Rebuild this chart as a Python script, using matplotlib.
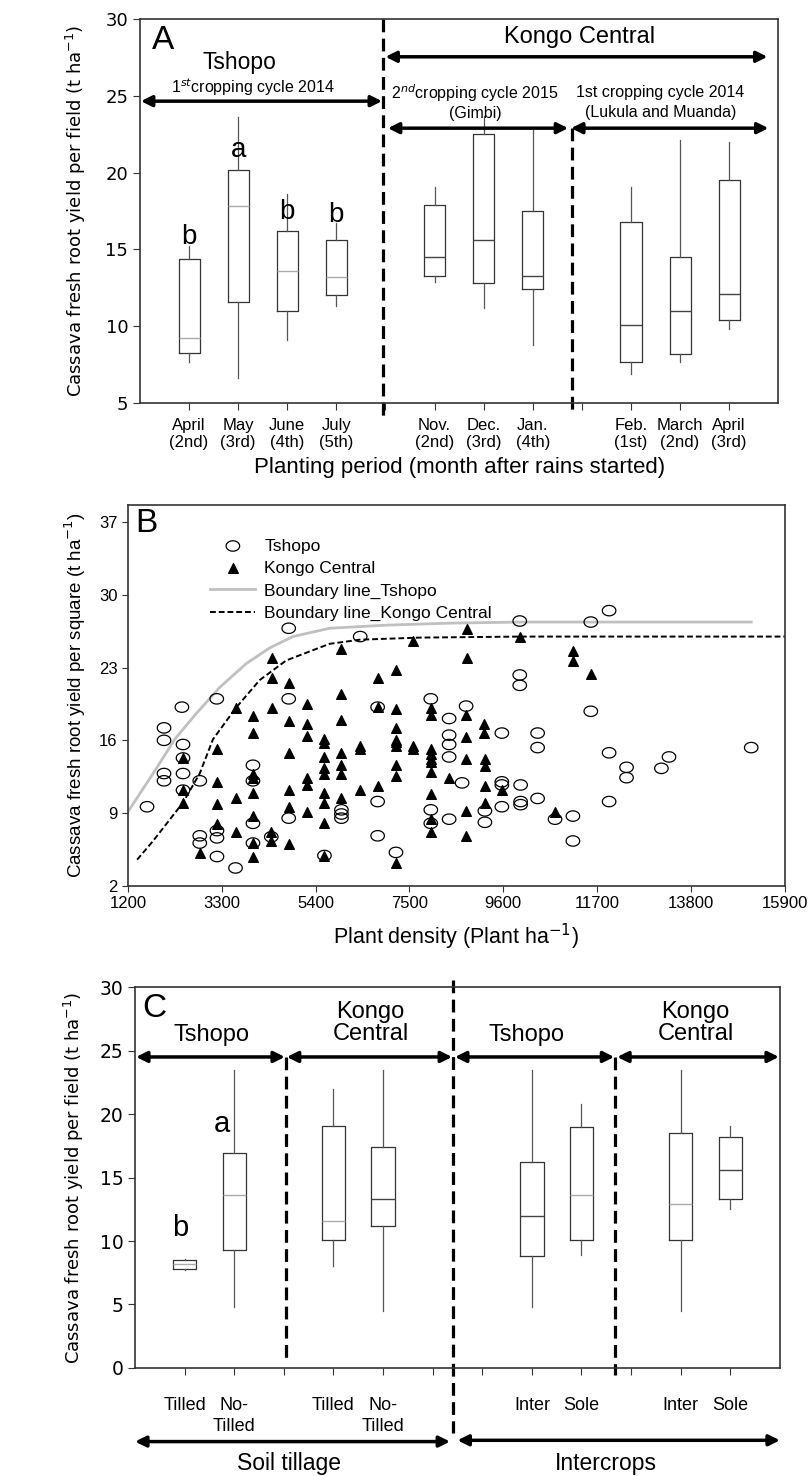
import matplotlib
matplotlib.use("Agg")
import matplotlib.pyplot as plt
from matplotlib.path import Path
from matplotlib import font_manager
import numpy as np

_avail = {f.name for f in font_manager.fontManager.ttflist}
if 'Liberation Sans Narrow' in _avail:
    NARROW = ['Liberation Sans Narrow', 'DejaVu Sans']
    NSCALE = 1.15
elif 'DejaVu Sans Condensed' in _avail:
    NARROW = ['DejaVu Sans Condensed', 'DejaVu Sans']
    NSCALE = 1.0
else:
    NARROW = ['Liberation Sans', 'DejaVu Sans']
    NSCALE = 1.0
ARIAL = ['Liberation Sans', 'DejaVu Sans']
VERD = ['DejaVu Sans']

# ---------------- Panel A data ----------------
a_labels = ["April\n(2nd)", "May\n(3rd)", "June\n(4th)", "July\n(5th)", "",
            "Nov.\n(2nd)", "Dec.\n(3rd)", "Jan.\n(4th)", "",
            "Feb.\n(1st)", "March\n(2nd)", "April\n(3rd)"]
a_pos = [1, 2, 3, 4, 6, 7, 8, 10, 11, 12]
a_whislo = [7.65, 6.6, 9.1, 11.3, 12.9, 11.2, 8.8, 6.9, 7.7, 9.8]
a_q1 = [8.26, 11.6, 11.0, 12.0, 13.3, 12.8, 12.4, 7.7, 8.2, 10.4]
a_med = [9.26, 17.8, 13.6, 13.2, 14.5, 15.6, 13.3, 10.1, 11.0, 12.1]
a_q3 = [14.4, 20.17, 16.2, 15.6, 17.9, 22.5, 17.5, 16.8, 14.5, 19.5]
a_whishi = [15.2, 23.6, 18.6, 16.7, 19.1, 23.7, 22.8, 19.1, 22.1, 22.0]
a_letters = ["b", "a", "b", "b"]
a_letter_pos = [1, 2, 3, 4]
a_letter_y = [15.8, 21.5, 17.45, 17.25]

# ---------------- Panel B data ----------------
ts_x = [1630, 2010, 2010, 2010, 2010, 2410, 2435, 2435, 2435, 2435, 2810, 2810, 2810,
        3190, 3195, 3195, 3195, 3610, 4000, 4000, 4000, 4000, 4410, 4800, 4800, 4800,
        5600, 5980, 5980, 5980, 6400, 6790, 6790, 6790, 7200, 7980, 7980, 7980,
        8390, 8390, 8390, 8390, 8390, 8680, 8770, 9190, 9190, 9570, 9570, 9570, 9570,
        9970, 9970, 9970, 9990, 9990, 9990, 10370, 10370, 10370, 10760, 11160, 11160,
        11560, 11560, 11970, 11970, 11970, 12360, 12360, 13140, 13310, 15150]
ts_y = [9.6, 17.2, 16.0, 12.8, 12.1, 19.2, 15.6, 14.3, 12.8, 11.2, 12.1, 6.8, 6.1,
        20.0, 7.3, 6.6, 4.8, 3.7, 13.6, 12.1, 8.0, 6.1, 6.7, 26.8, 20.0, 8.5,
        4.9, 9.3, 8.9, 8.5, 26.0, 19.2, 10.1, 6.8, 5.2, 20.0, 9.3, 8.0,
        18.1, 16.5, 15.6, 14.4, 8.4, 11.9, 19.3, 9.2, 8.1, 16.7, 12.0, 11.7, 9.6,
        27.5, 22.3, 21.3, 11.7, 10.1, 9.8, 16.7, 15.3, 10.4, 8.4, 8.7, 6.3,
        27.4, 18.8, 28.5, 14.8, 10.1, 13.4, 12.4, 13.3, 14.4, 15.3]
kc_x = [2435, 2435, 2435, 2810, 3195, 3195, 3195, 3195, 3610, 3610, 3610,
        4000, 4000, 4000, 4000, 4000, 4000, 4000, 4000, 4420, 4420, 4420, 4410, 4410,
        4800, 4800, 4800, 4800, 4800, 4800, 5220, 5220, 5220, 5220, 5220, 5220,
        5600, 5600, 5600, 5600, 5600, 5600, 5600, 5600, 5600,
        5980, 5980, 5980, 5980, 5980, 5980, 5980, 6400, 6400, 6400, 6790, 6790, 6790,
        7200, 7200, 7200, 7200, 7200, 7200, 7200, 7200, 7200, 7590, 7590, 7590,
        7980, 7980, 7980, 7980, 7980, 7980, 7980, 7980, 7980, 7980, 8390,
        8780, 8780, 8770, 8770, 8770, 8770, 8770, 9180, 9180, 9190, 9190, 9190, 9190,
        9570, 9970, 10760, 11160, 11160, 11560]
kc_y = [14.3, 11.2, 10.0, 5.1, 15.2, 12.0, 9.9, 7.9, 19.1, 10.4, 7.2,
        18.3, 16.7, 12.8, 12.4, 10.9, 8.7, 6.1, 4.8, 23.9, 22.0, 19.1, 7.2, 6.3,
        21.5, 17.9, 14.8, 11.2, 9.6, 6.0, 19.5, 17.6, 16.4, 12.4, 11.7, 9.1,
        16.1, 15.7, 14.4, 13.3, 12.8, 10.9, 10.0, 8.0, 4.9,
        24.8, 20.5, 18.0, 14.8, 13.6, 12.8, 10.4, 15.5, 15.2, 11.2, 22.0, 19.2, 11.6,
        22.8, 19.0, 17.2, 16.0, 15.8, 15.5, 13.6, 12.6, 4.2, 25.6, 15.5, 15.2,
        19.1, 18.4, 15.2, 14.7, 14.2, 13.9, 12.9, 10.8, 8.4, 7.2, 12.4,
        26.7, 23.9, 18.4, 16.3, 14.2, 9.2, 6.8, 17.6, 16.7, 14.2, 13.5, 11.6, 10.0,
        11.2, 26.0, 9.1, 24.6, 23.6, 22.4]
bl_ts_x = [1200, 1810, 2250, 2734, 3255, 3851, 4372, 4893, 5713, 6980, 8467, 10000, 12000, 15150]
bl_ts_y = [9.1, 13.1, 16.1, 18.6, 21.1, 23.4, 24.9, 26.0, 26.8, 27.1, 27.3, 27.4, 27.4, 27.4]
bl_kc_x = [1408, 1765, 2435, 2808, 3106, 3613, 4149, 4745, 5713, 6398, 7723, 10000, 15900]
bl_kc_y = [4.5, 6.3, 10.0, 12.8, 16.1, 19.1, 21.8, 23.7, 25.3, 25.7, 25.9, 26.0, 26.0]
b_xticks = [1200, 3300, 5400, 7500, 9600, 11700, 13800, 15900]
b_yticks = [2, 9, 16, 23, 30, 37]

# ---------------- Panel C data ----------------
c_labels = ["Tilled", "No-\nTilled", "", "Tilled", "No-\nTilled", "", "",
            "Inter", "Sole", "", "Inter", "Sole"]
c_pos = [1, 2, 4, 5, 8, 9, 11, 12]
c_whislo = [7.7, 4.8, 8.0, 4.5, 4.8, 8.9, 4.5, 12.5]
c_q1 = [7.79, 9.33, 10.1, 11.2, 8.8, 10.1, 10.1, 13.3]
c_med = [8.18, 13.6, 11.6, 13.3, 12.0, 13.6, 12.9, 15.6]
c_q3 = [8.5, 16.9, 19.1, 17.4, 16.2, 19.0, 18.5, 18.2]
c_whishi = [8.57, 23.5, 22.0, 23.5, 23.5, 20.8, 23.5, 19.1]
c_letters = ["b", "a"]
c_letter_pos = [0.9, 1.75]
c_letter_y = [11.0, 19.2]

SPINE = '#333333'
DASH = (0, (4, 2))
a_medcol = ['#aaaaaa'] * 4 + ['#444444'] * 6
c_medcol = ['#aaaaaa', '#aaaaaa', '#aaaaaa', '#444444', '#444444', '#aaaaaa', '#aaaaaa', '#444444']

fig = plt.figure(figsize=(8.09, 14.76), dpi=100)


def style_frame(ax):
    for s in ax.spines.values():
        s.set_color(SPINE)
        s.set_linewidth(1.2)


def draw_boxes(ax, pos, lo, q1, med, q3, hi, width, medcols):
    stats = []
    for i in range(len(pos)):
        stats.append(dict(whislo=lo[i], q1=q1[i], med=med[i], q3=q3[i], whishi=hi[i], fliers=[]))
    res = ax.bxp(stats, positions=pos, widths=width, showcaps=False, showfliers=False,
                 boxprops=dict(color='#333333', linewidth=0.9),
                 whiskerprops=dict(color='#555555', linewidth=0.9),
                 medianprops=dict(color='#555555', linewidth=1.0),
                 manage_ticks=False)
    for m, c in zip(res['medians'], medcols):
        m.set_color(c)


def harrow(ax, x0, x1, y, lw=2.5, ms=16):
    ax.annotate('', xy=(x1, y), xytext=(x0, y),
                arrowprops=dict(arrowstyle='<|-|>', lw=lw, color='black',
                                mutation_scale=ms, shrinkA=0, shrinkB=0),
                annotation_clip=False)


def ntext(ax, x, y, s, size, **kw):
    ax.text(x, y, s, fontsize=size * NSCALE, family=NARROW, ha=kw.pop('ha', 'center'),
            va=kw.pop('va', 'center'), clip_on=False, **kw)

# ================= Panel A =================
axA = fig.add_axes([0.173, 0.727, 0.789, 0.260])
draw_boxes(axA, a_pos, a_whislo, a_q1, a_med, a_q3, a_whishi, 0.43, a_medcol)
axA.set_xlim(0, 13)
axA.set_ylim(5, 30)
axA.set_yticks([5, 10, 15, 20, 25, 30])
axA.set_xticks(range(1, 13))
axA.set_xticklabels(a_labels, family=NARROW, fontsize=12 * NSCALE, linespacing=1.15)
axA.tick_params(axis='y', labelsize=13, direction='out', length=5, color=SPINE)
axA.tick_params(axis='x', direction='out', length=5, color=SPINE, pad=6)
style_frame(axA)
axA.set_ylabel("Cassava fresh root yield per field (t ha$^{-1}$)", family=VERD, fontsize=13, labelpad=12)
axA.set_xlabel("Planting period (month after rains started)", family=ARIAL, fontsize=16, labelpad=5)
for t, xp, yp in zip(a_letters, a_letter_pos, a_letter_y):
    ntext(axA, xp, yp, t, 20)
ntext(axA, 0.25, 28.6, "A", 24, ha='left')
ntext(axA, 2.02, 27.2, "Tshopo", 16.5)
ntext(axA, 2.3, 25.55, "1$^{st}$cropping cycle 2014", 11.5)
ntext(axA, 8.96, 28.85, "Kongo Central", 17)
ntext(axA, 6.82, 25.2, "2$^{nd}$cropping cycle 2015", 11.5)
ntext(axA, 6.82, 23.85, "(Gimbi)", 11.5)
ntext(axA, 10.6, 25.2, "1st cropping cycle 2014", 11.5)
ntext(axA, 10.6, 23.9, "(Lukula and Muanda)", 11.5)
harrow(axA, 0.02, 4.93, 24.66)
harrow(axA, 5.0, 12.78, 27.55)
harrow(axA, 5.05, 8.72, 22.9)
harrow(axA, 8.78, 12.8, 22.9)
axA.plot([4.95, 4.95], [30, 4.15], color='black', lw=2.3, ls=DASH, clip_on=False)
axA.plot([8.8, 8.8], [22.9, 4.55], color='black', lw=2.3, ls=DASH, clip_on=False)

# ================= Panel B =================
axB = fig.add_axes([0.158, 0.400, 0.812, 0.258])
theta = np.linspace(0, 2 * np.pi, 40)
ell = Path(np.column_stack([1.3 * np.cos(theta), np.sin(theta)]), closed=True)
axB.plot(bl_ts_x, bl_ts_y, color='#c0c0c0', lw=2.0, label="Boundary line_Tshopo", zorder=1)
axB.plot(bl_kc_x, bl_kc_y, color='black', lw=1.4, ls=(0, (3, 1.5)), label="Boundary line_Kongo Central", zorder=1)
axB.scatter(ts_x, ts_y, marker=ell, s=95, facecolors='none', edgecolors='black', linewidths=0.9, label="Tshopo", zorder=3)
axB.scatter(kc_x, kc_y, marker='^', s=48, color='black', label="Kongo Central", zorder=2)
axB.set_xlim(1200, 15900)
axB.set_ylim(2, 38.7)
axB.set_xticks(b_xticks)
axB.set_yticks(b_yticks)
axB.tick_params(labelsize=12, direction='out', length=4, color=SPINE)
for lab in axB.get_xticklabels() + axB.get_yticklabels():
    lab.set_family(ARIAL)
style_frame(axB)
axB.set_ylabel("Cassava fresh root yield per square (t ha$^{-1}$)", family=ARIAL, fontsize=13.5, labelpad=8)
axB.set_xlabel("Plant density (Plant ha$^{-1}$)", family=ARIAL, fontsize=15.5, labelpad=8)
ntext(axB, 0.012, 0.95, "B", 24, ha='left', transform=axB.transAxes)
h, l = axB.get_legend_handles_labels()
order = [2, 3, 0, 1]
axB.legend([h[i] for i in order], [l[i] for i in order], loc='upper left',
           bbox_to_anchor=(0.115, 0.93), frameon=False, prop=dict(family=ARIAL, size=12.5),
           handlelength=2.6, handletextpad=0.5, labelspacing=0.42, borderaxespad=0)

# ================= Panel C =================
axC = fig.add_axes([0.167, 0.0732, 0.797, 0.258])
draw_boxes(axC, c_pos, c_whislo, c_q1, c_med, c_q3, c_whishi, 0.47, c_medcol)
axC.set_xlim(0, 13)
axC.set_ylim(0, 30)
axC.set_yticks([0, 5, 10, 15, 20, 25, 30])
axC.set_xticks(range(1, 13))
axC.set_xticklabels(c_labels, family=NARROW, fontsize=13 * NSCALE, linespacing=1.3)
axC.tick_params(axis='y', labelsize=13.5, direction='out', length=5, color=SPINE)
axC.tick_params(axis='x', direction='out', length=5, color=SPINE, pad=16)
style_frame(axC)
axC.set_ylabel("Cassava fresh root yield per field (t ha$^{-1}$)", family=VERD, fontsize=13, labelpad=10)
for t, xp, yp in zip(c_letters, c_letter_pos, c_letter_y):
    ntext(axC, xp, yp, t, 21)
ntext(axC, 0.15, 28.3, "C", 24, ha='left')
ntext(axC, 1.55, 26.2, "Tshopo", 17)
ntext(axC, 4.75, 27.2, "Kongo\nCentral", 17, linespacing=1.0)
ntext(axC, 7.9, 26.2, "Tshopo", 17)
ntext(axC, 11.3, 27.2, "Kongo\nCentral", 17, linespacing=1.0)
harrow(axC, 0.02, 3.02, 24.5)
harrow(axC, 3.06, 6.39, 24.5)
harrow(axC, 6.45, 9.66, 24.5)
harrow(axC, 9.72, 12.98, 24.5)
axC.plot([3.04, 3.04], [24.5, 0.6], color='black', lw=2.3, ls=DASH, clip_on=False)
axC.plot([6.41, 6.41], [30.6, -5.1], color='black', lw=2.3, ls=DASH, clip_on=False)
axC.plot([9.68, 9.68], [24.5, -0.55], color='black', lw=2.3, ls=DASH, clip_on=False)
harrow(axC, 0.0, 6.35, -5.8)
harrow(axC, 6.5, 13.0, -5.7)
ntext(axC, 3.1, -7.5, "Soil tillage", 16.5)
ntext(axC, 9.5, -7.5, "Intercrops", 16.5)

fig.savefig("out.png", dpi=100)
